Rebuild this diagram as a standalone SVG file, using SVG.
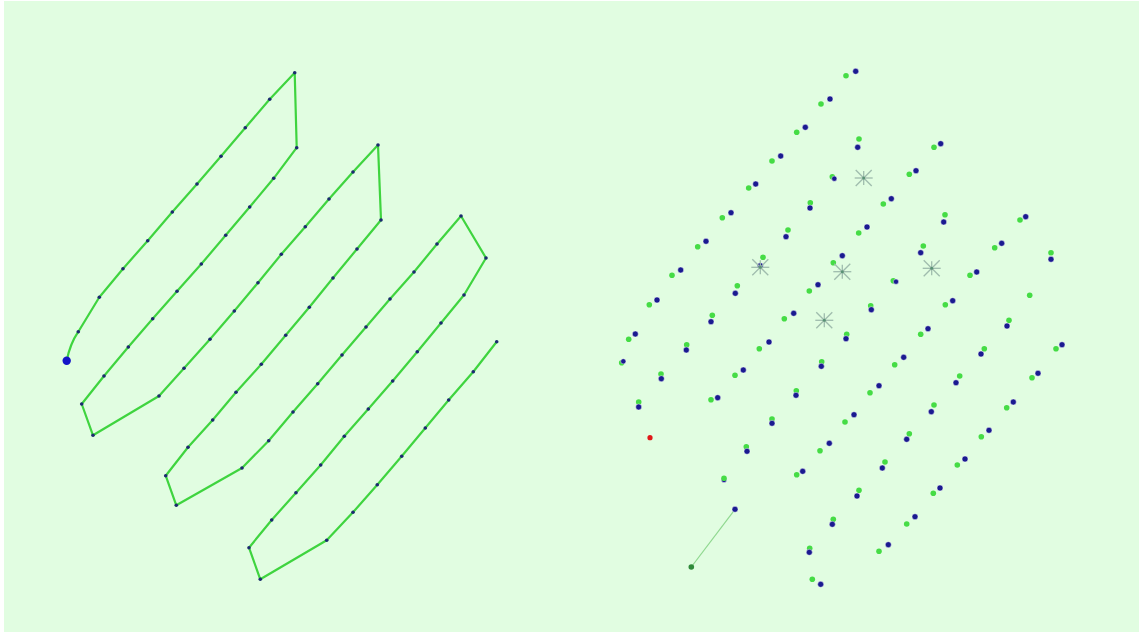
<svg xmlns="http://www.w3.org/2000/svg" width="1139" height="632" viewBox="0 0 1139 632">
<style>
.path{fill:none;stroke:#3fd43f;stroke-width:2.2;stroke-linejoin:round;stroke-linecap:round}
.wp{fill:#1c2a70}
.g{fill:#45dc45}
.b{fill:#1a1a90;stroke:#ffffff;stroke-opacity:0.45;stroke-width:1}
</style>
<defs>
<g id="st" stroke="#9fbcad" stroke-width="1.3"><line x1="-8" y1="-8" x2="8" y2="8"/><line x1="-8" y1="8" x2="8" y2="-8"/><line x1="-9" y1="0" x2="9" y2="0"/><line x1="0" y1="-7" x2="0" y2="7"/><circle r="1.5" fill="#5a9275" stroke="none"/></g>
</defs>
<rect width="1139" height="632" fill="#ffffff"/>
<rect x="4" y="1" width="1135" height="631" fill="#e1fde1"/>
<g id="connectors">
<path class="path" d="M66.7,360.7 Q70,344 78.3,331.7 L99.3,297.3 123,268.7 147.7,240.7 172.3,212 197,184 221,156.3 245.3,127.7 269.7,99.3 294.7,72.7 296.7,147.7 273.7,178.3 249.7,207 225.7,235.3 201.3,264 177,291.3 152.7,318.7 128.3,347 104,376 81.7,404 93,435.3 159,396 184,368.3 210,339.3 234.3,311 258,282.7 281.3,254.3 305.3,226.7 329,199 353,172 378,145 381,220 357,249 333,278 309.3,307.3 285.7,335.3 261.3,364.3 236,392.3 212.7,420 188,447.3 165.7,475.7 176.3,505.3 242,468 268.7,440.7 293,412 317.7,383.7 342,355 366,327 390,299 414,272 437,244 461,216 486,258 464,295 441,323 417.3,351.7 392.7,381 368.3,409 344.3,436.3 320.7,465 296,492.7 271.7,520 249,547.7 260.3,579.3 326.7,540.3 353,512.3 377.3,484.7 401.7,456.3 425.3,428 448.7,400 473.3,371.7 496.7,341.7"/>
<line x1="735" y1="509.3" x2="691.3" y2="567" stroke="#8fd88f" stroke-width="1.2"/>
</g>
<g id="waypoints">
<circle class="wp" cx="78.3" cy="331.7" r="1.8"/><circle class="wp" cx="99.3" cy="297.3" r="1.8"/><circle class="wp" cx="123" cy="268.7" r="1.8"/><circle class="wp" cx="147.7" cy="240.7" r="1.8"/><circle class="wp" cx="172.3" cy="212" r="1.8"/><circle class="wp" cx="197" cy="184" r="1.8"/><circle class="wp" cx="221" cy="156.3" r="1.8"/><circle class="wp" cx="245.3" cy="127.7" r="1.8"/><circle class="wp" cx="269.7" cy="99.3" r="1.8"/><circle class="wp" cx="294.7" cy="72.7" r="1.8"/><circle class="wp" cx="296.7" cy="147.7" r="1.8"/><circle class="wp" cx="273.7" cy="178.3" r="1.8"/><circle class="wp" cx="249.7" cy="207" r="1.8"/><circle class="wp" cx="225.7" cy="235.3" r="1.8"/><circle class="wp" cx="201.3" cy="264" r="1.8"/><circle class="wp" cx="177" cy="291.3" r="1.8"/><circle class="wp" cx="152.7" cy="318.7" r="1.8"/><circle class="wp" cx="128.3" cy="347" r="1.8"/><circle class="wp" cx="104" cy="376" r="1.8"/><circle class="wp" cx="81.7" cy="404" r="1.8"/><circle class="wp" cx="93" cy="435.3" r="1.8"/><circle class="wp" cx="159" cy="396" r="1.8"/><circle class="wp" cx="184" cy="368.3" r="1.8"/><circle class="wp" cx="210" cy="339.3" r="1.8"/><circle class="wp" cx="234.3" cy="311" r="1.8"/><circle class="wp" cx="258" cy="282.7" r="1.8"/><circle class="wp" cx="281.3" cy="254.3" r="1.8"/><circle class="wp" cx="305.3" cy="226.7" r="1.8"/><circle class="wp" cx="329" cy="199" r="1.8"/><circle class="wp" cx="353" cy="172" r="1.8"/><circle class="wp" cx="378" cy="145" r="1.8"/><circle class="wp" cx="381" cy="220" r="1.8"/><circle class="wp" cx="357" cy="249" r="1.8"/><circle class="wp" cx="333" cy="278" r="1.8"/><circle class="wp" cx="309.3" cy="307.3" r="1.8"/><circle class="wp" cx="285.7" cy="335.3" r="1.8"/><circle class="wp" cx="261.3" cy="364.3" r="1.8"/><circle class="wp" cx="236" cy="392.3" r="1.8"/><circle class="wp" cx="212.7" cy="420" r="1.8"/><circle class="wp" cx="188" cy="447.3" r="1.8"/><circle class="wp" cx="165.7" cy="475.7" r="1.8"/><circle class="wp" cx="176.3" cy="505.3" r="1.8"/><circle class="wp" cx="242" cy="468" r="1.8"/><circle class="wp" cx="268.7" cy="440.7" r="1.8"/><circle class="wp" cx="293" cy="412" r="1.8"/><circle class="wp" cx="317.7" cy="383.7" r="1.8"/><circle class="wp" cx="342" cy="355" r="1.8"/><circle class="wp" cx="366" cy="327" r="1.8"/><circle class="wp" cx="390" cy="299" r="1.8"/><circle class="wp" cx="414" cy="272" r="1.8"/><circle class="wp" cx="437" cy="244" r="1.8"/><circle class="wp" cx="461" cy="216" r="1.8"/><circle class="wp" cx="486" cy="258" r="1.8"/><circle class="wp" cx="464" cy="295" r="1.8"/><circle class="wp" cx="441" cy="323" r="1.8"/><circle class="wp" cx="417.3" cy="351.7" r="1.8"/><circle class="wp" cx="392.7" cy="381" r="1.8"/><circle class="wp" cx="368.3" cy="409" r="1.8"/><circle class="wp" cx="344.3" cy="436.3" r="1.8"/><circle class="wp" cx="320.7" cy="465" r="1.8"/><circle class="wp" cx="296" cy="492.7" r="1.8"/><circle class="wp" cx="271.7" cy="520" r="1.8"/><circle class="wp" cx="249" cy="547.7" r="1.8"/><circle class="wp" cx="260.3" cy="579.3" r="1.8"/><circle class="wp" cx="326.7" cy="540.3" r="1.8"/><circle class="wp" cx="353" cy="512.3" r="1.8"/><circle class="wp" cx="377.3" cy="484.7" r="1.8"/><circle class="wp" cx="401.7" cy="456.3" r="1.8"/><circle class="wp" cx="425.3" cy="428" r="1.8"/><circle class="wp" cx="448.7" cy="400" r="1.8"/><circle class="wp" cx="473.3" cy="371.7" r="1.8"/><circle class="wp" cx="496.7" cy="341.7" r="1.8"/>
<circle id="start" cx="66.7" cy="360.7" r="4.2" fill="#1414c8"/>
</g>
<g id="photos">
<circle class="g" cx="846" cy="75.7" r="2.8"/><circle class="b" cx="855.7" cy="71.3" r="3"/>
<circle class="g" cx="821" cy="104" r="2.8"/><circle class="b" cx="830" cy="99" r="3"/>
<circle class="g" cx="796.7" cy="132.3" r="2.8"/><circle class="b" cx="805.3" cy="127.3" r="3"/>
<circle class="g" cx="772" cy="161" r="2.8"/><circle class="b" cx="780.7" cy="156" r="3"/>
<circle class="g" cx="748.7" cy="188" r="2.8"/><circle class="b" cx="755.7" cy="184" r="3"/>
<circle class="g" cx="722.3" cy="217.7" r="2.8"/><circle class="b" cx="731" cy="212.7" r="3"/>
<circle class="g" cx="697.7" cy="246.7" r="2.8"/><circle class="b" cx="706" cy="241.3" r="3"/>
<circle class="g" cx="672" cy="275.3" r="2.8"/><circle class="b" cx="680.7" cy="270" r="3"/>
<circle class="g" cx="649.3" cy="304.7" r="2.8"/><circle class="b" cx="657" cy="300" r="3"/>
<circle class="g" cx="628.7" cy="339.3" r="2.8"/><circle class="b" cx="635.3" cy="334" r="3"/>
<circle class="g" cx="621.7" cy="362.7" r="2.8"/><circle class="b" cx="623.3" cy="361.3" r="2.6"/>
<circle class="g" cx="638.7" cy="402" r="2.8"/><circle class="b" cx="638.7" cy="407" r="3"/>
<circle class="g" cx="661" cy="374" r="2.8"/><circle class="b" cx="661.3" cy="378.7" r="3"/>
<circle class="g" cx="686.7" cy="344.7" r="2.8"/><circle class="b" cx="686.3" cy="350" r="3"/>
<circle class="g" cx="712.3" cy="315.3" r="2.8"/><circle class="b" cx="711" cy="321.7" r="3"/>
<circle class="g" cx="737.3" cy="285.7" r="2.8"/><circle class="b" cx="735.3" cy="293.3" r="3"/>
<circle class="g" cx="763" cy="257.3" r="2.8"/><circle class="b" cx="760.3" cy="265.7" r="3"/>
<circle class="g" cx="788" cy="230" r="2.8"/><circle class="b" cx="786" cy="236.7" r="3"/>
<circle class="g" cx="810.3" cy="202.7" r="2.8"/><circle class="b" cx="810" cy="208" r="3"/>
<circle class="g" cx="832.3" cy="176.7" r="2.8"/><circle class="b" cx="834.3" cy="178.7" r="2.6"/>
<circle class="g" cx="859" cy="139" r="2.8"/><circle class="b" cx="857.7" cy="147.3" r="3"/>
<circle class="g" cx="934" cy="147.3" r="2.8"/><circle class="b" cx="940.7" cy="143.7" r="3"/>
<circle class="g" cx="909.3" cy="174.3" r="2.8"/><circle class="b" cx="916" cy="170.7" r="3"/>
<circle class="g" cx="883.3" cy="204" r="2.8"/><circle class="b" cx="891.3" cy="198.7" r="3"/>
<circle class="g" cx="858.7" cy="233" r="2.8"/><circle class="b" cx="867" cy="227" r="3"/>
<circle class="g" cx="833.3" cy="262.7" r="2.8"/><circle class="b" cx="842.3" cy="255.7" r="3"/>
<circle class="g" cx="809.3" cy="291" r="2.8"/><circle class="b" cx="818" cy="284.7" r="3"/>
<circle class="g" cx="784.3" cy="318.7" r="2.8"/><circle class="b" cx="793.7" cy="313.3" r="3"/>
<circle class="g" cx="759.3" cy="348.7" r="2.8"/><circle class="b" cx="769" cy="342" r="3"/>
<circle class="g" cx="735" cy="375.3" r="2.8"/><circle class="b" cx="743.3" cy="370" r="3"/>
<circle class="g" cx="711" cy="399.7" r="2.8"/><circle class="b" cx="717.7" cy="397.7" r="3"/>
<circle class="g" cx="945" cy="214.7" r="2.8"/><circle class="b" cx="943.7" cy="222" r="3"/>
<circle class="g" cx="923.3" cy="246" r="2.8"/><circle class="b" cx="920.7" cy="252.7" r="3"/>
<circle class="g" cx="893.3" cy="280.7" r="2.8"/><circle class="b" cx="896" cy="281.7" r="2.6"/>
<circle class="g" cx="870.7" cy="305.7" r="2.8"/><circle class="b" cx="871.3" cy="309.7" r="3"/>
<circle class="g" cx="846.7" cy="334.3" r="2.8"/><circle class="b" cx="846" cy="338.7" r="3"/>
<circle class="g" cx="821.7" cy="361.7" r="2.8"/><circle class="b" cx="821.3" cy="366.3" r="3"/>
<circle class="g" cx="796.3" cy="390.7" r="2.8"/><circle class="b" cx="796" cy="395.3" r="3"/>
<circle class="g" cx="772" cy="419" r="2.8"/><circle class="b" cx="772" cy="423.3" r="3"/>
<circle class="g" cx="746.3" cy="446.7" r="2.8"/><circle class="b" cx="747" cy="451.3" r="3"/>
<circle class="b" cx="724" cy="480" r="2.6"/><circle class="g" cx="724" cy="478.3" r="2.8"/>
<circle class="b" cx="735" cy="509.3" r="3"/>
<circle cx="691.3" cy="567" r="2.8" fill="#2f8a3a"/>
<circle class="g" cx="1020" cy="220" r="2.8"/><circle class="b" cx="1025.7" cy="216.7" r="3"/>
<circle class="g" cx="994.7" cy="247.7" r="2.8"/><circle class="b" cx="1001.7" cy="243.3" r="3"/>
<circle class="g" cx="970" cy="275.3" r="2.8"/><circle class="b" cx="976.7" cy="272" r="3"/>
<circle class="g" cx="945.3" cy="304.7" r="2.8"/><circle class="b" cx="952.7" cy="300.7" r="3"/>
<circle class="g" cx="920.7" cy="334.3" r="2.8"/><circle class="b" cx="928" cy="328.7" r="3"/>
<circle class="g" cx="894.7" cy="364.7" r="2.8"/><circle class="b" cx="903.7" cy="357.3" r="3"/>
<circle class="g" cx="870" cy="392.7" r="2.8"/><circle class="b" cx="879" cy="385.7" r="3"/>
<circle class="g" cx="845" cy="422" r="2.8"/><circle class="b" cx="854" cy="414.7" r="3"/>
<circle class="g" cx="820" cy="450.7" r="2.8"/><circle class="b" cx="829.3" cy="443.3" r="3"/>
<circle class="g" cx="796.7" cy="474.7" r="2.8"/><circle class="b" cx="802.7" cy="471.3" r="3"/>
<circle class="g" cx="1051" cy="252.7" r="2.8"/><circle class="b" cx="1051" cy="259.3" r="3"/>
<circle class="g" cx="1029.7" cy="295.3" r="2.8"/>
<circle class="g" cx="1009" cy="320.3" r="2.8"/><circle class="b" cx="1007" cy="326" r="3"/>
<circle class="g" cx="984.3" cy="348.7" r="2.8"/><circle class="b" cx="981" cy="354" r="3"/>
<circle class="g" cx="959.7" cy="376" r="2.8"/><circle class="b" cx="956" cy="382.7" r="3"/>
<circle class="g" cx="934" cy="405" r="2.8"/><circle class="b" cx="931.3" cy="411.7" r="3"/>
<circle class="g" cx="909.3" cy="433.7" r="2.8"/><circle class="b" cx="906.7" cy="439.3" r="3"/>
<circle class="g" cx="885" cy="462" r="2.8"/><circle class="b" cx="882.3" cy="468" r="3"/>
<circle class="g" cx="859" cy="490.3" r="2.8"/><circle class="b" cx="857" cy="496" r="3"/>
<circle class="g" cx="833.3" cy="519.3" r="2.8"/><circle class="b" cx="832.3" cy="524.3" r="3"/>
<circle class="g" cx="809.7" cy="548.3" r="2.8"/><circle class="b" cx="809.3" cy="552.3" r="3"/>
<circle class="g" cx="812.3" cy="579.3" r="2.8"/><circle class="b" cx="820.7" cy="584.3" r="3"/>
<circle class="g" cx="1056" cy="348.7" r="2.8"/><circle class="b" cx="1062" cy="344.7" r="3"/>
<circle class="g" cx="1032" cy="377.7" r="2.8"/><circle class="b" cx="1038" cy="373.3" r="3"/>
<circle class="g" cx="1006.7" cy="407.7" r="2.8"/><circle class="b" cx="1013.3" cy="402" r="3"/>
<circle class="g" cx="981.3" cy="436.7" r="2.8"/><circle class="b" cx="989" cy="430.3" r="3"/>
<circle class="g" cx="957.3" cy="465" r="2.8"/><circle class="b" cx="965" cy="459" r="3"/>
<circle class="g" cx="933.3" cy="493.3" r="2.8"/><circle class="b" cx="940" cy="488" r="3"/>
<circle class="g" cx="906.7" cy="524" r="2.8"/><circle class="b" cx="915" cy="516.7" r="3"/>
<circle class="g" cx="879" cy="551.3" r="2.8"/><circle class="b" cx="888.3" cy="544.7" r="3"/>
<circle cx="650" cy="437.7" r="2.6" fill="#e01818"/>
</g>
<g id="gcps">
<use href="#st" x="863.7" y="178"/>
<use href="#st" x="760.3" y="267.3"/>
<use href="#st" x="842.3" y="271.7"/>
<use href="#st" x="824.3" y="320.3"/>
<use href="#st" x="931.7" y="268.3"/>
</g>
</svg>
